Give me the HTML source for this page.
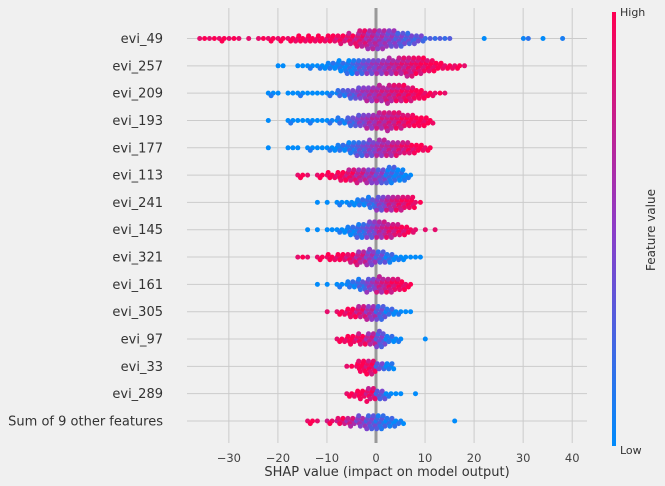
<!DOCTYPE html>
<html><head><meta charset="utf-8"><style>
body{margin:0;background:#f0f0f0;}
svg{display:block;font-family:"DejaVu Sans","Liberation Sans",sans-serif;}
</style></head><body>
<svg id="chart" width="665" height="486" viewBox="0 0 665 486" xmlns="http://www.w3.org/2000/svg">
<defs><linearGradient id="cb" x1="0" y1="1" x2="0" y2="0">
<stop offset="0" stop-color="#008bfb"/><stop offset="0.5" stop-color="#8c3cc8"/><stop offset="1" stop-color="#ff0052"/></linearGradient></defs>
<rect x="0" y="0" width="665" height="486" fill="#f0f0f0"/>
<g id="grid"></g><g id="dots"></g><g id="labels"></g>
<rect x="612" y="12" width="4" height="434" fill="url(#cb)"/>
<text x="620" y="16" font-size="11" fill="#333">High</text>
<text x="620" y="454" font-size="11" fill="#333">Low</text>
<text transform="translate(655,230) rotate(-90)" text-anchor="middle" font-size="12" fill="#333">Feature value</text>
<text x="387" y="476" text-anchor="middle" font-size="13" fill="#333">SHAP value (impact on model output)</text>
</svg>
<script>
const features = ["evi_49","evi_257","evi_209","evi_193","evi_177","evi_113","evi_241","evi_145","evi_321","evi_161","evi_305","evi_97","evi_33","evi_289","Sum of 9 other features"];
const xTicks = [-30,-20,-10,0,10,20,30,40];
const binWidth = 2;
const binStarts = [-36,-20,-22,-22,-22,-16,-12,-14,-16,-12,-10,-8,-6,-6,-14];
const binCounts = [
[2,2,3,2,1,1,2,3,3,4,5,5,5,6,7,9,14,16,16,14,12,9,6,2,2,2,0,0,0,1,0,0,0,2,0,1,0,1],
[2,0,2,3,4,6,9,12,12,12,12,13,14,16,14,10,6,4,3,1],
[3,1,2,3,2,2,3,6,8,10,12,13,15,14,12,8,4,2,1],
[1,0,3,2,3,2,3,5,8,10,12,14,15,13,10,8,5],
[1,0,2,1,3,2,4,6,10,12,13,14,12,11,9,6,3],
[3,1,3,5,8,10,11,12,12,14,10,3],
[1,1,3,4,6,9,12,12,12,10,2],
[1,1,2,4,8,12,14,14,12,9,5,1,1,1],
[2,1,3,5,6,8,11,13,10,7,4,2,2],
[1,1,3,6,9,11,13,12,9,3],
[1,4,8,10,12,12,6,3,2],
[4,7,9,10,13,6,3,0,0,1],
[2,10,12,6,6],
[4,7,11,8,3,2,0,1],
[3,1,3,6,7,9,12,12,8,4,0,0,0,0,0,1]
];
const binColors = [
[1,1,1,1,1,1,1,1,1,1,1,1,1,0.95,0.9,0.85,0.8,0.65,0.55,0.45,0.35,0.3,0.3,0.3,0.3,0.3,0,0,0,0.1,0,0,0,0.15,0,0.1,0,0.2],
[0,0,0,0,0,0.02,0.05,0.1,0.3,0.45,0.55,0.65,0.75,0.8,0.9,0.95,1,1,1,1],
[0,0,0,0,0,0,0.05,0.15,0.3,0.5,0.6,0.7,0.75,0.85,0.9,1,1,1,1],
[0,0,0,0,0,0,0.05,0.1,0.25,0.45,0.6,0.7,0.75,0.85,0.95,1,1],
[0,0,0,0,0,0,0,0.05,0.15,0.3,0.45,0.6,0.7,0.8,0.9,1,1],
[1,1,1,1,0.95,0.85,0.7,0.55,0.4,0.15,0.05,0],
[0,0,0,0,0.05,0.2,0.45,0.7,0.85,0.95,1],
[0,0,0,0,0.05,0.2,0.4,0.65,0.8,0.9,0.95,1,1,1],
[1,1,1,1,0.95,0.85,0.7,0.5,0.3,0.1,0,0,0],
[0,0,0,0.05,0.2,0.45,0.7,0.85,0.95,1],
[1,1,0.95,0.8,0.6,0.3,0.1,0,0],
[1,1,0.9,0.7,0.35,0.05,0,0,0,0],
[1,1,0.9,0.3,0],
[1,1,0.85,0.3,0,0,0,0],
[1,1,0.9,0.85,0.7,0.5,0.35,0.2,0.1,0.05,0,0,0,0,0,0]
];
const NS="http://www.w3.org/2000/svg";
const plotL=187, plotR=587, plotT=8, plotB=443;
const zeroX=376, pxPerUnit=4.905;
const rowY0=38.5, rowStep=27.32;
function xScale(v){return zeroX+v*pxPerUnit;}
function yScale(i){return rowY0+i*rowStep;}
function mk(tag,attrs){const e=document.createElementNS(NS,tag);for(const k in attrs)e.setAttribute(k,attrs[k]);return e;}
function colorAt(t){
  t=Math.max(0,Math.min(1,t));
  const a=[0,139,251],m=[140,60,200],b=[255,0,82];
  let c;
  if(t<0.5){const u=t/0.5;c=a.map((v,k)=>Math.round(v+(m[k]-v)*u));}
  else{const u=(t-0.5)/0.5;c=m.map((v,k)=>Math.round(v+(b[k]-v)*u));}
  return "rgb("+c.join(",")+")";
}
const grid=document.getElementById('grid'),dots=document.getElementById('dots'),labels=document.getElementById('labels');
xTicks.forEach(t=>{
  const l=mk('line',{x1:xScale(t),x2:xScale(t),y1:plotT,y2:plotB,stroke:"#cbcbcb","stroke-width":1});
  
  
  grid.appendChild(l);
  const tx=mk('text',{x:xScale(t),y:462,"text-anchor":"middle","font-size":11.5,fill:"#444"});
  tx.textContent=(t<0?"\u2212"+Math.abs(t):String(t));
  
  
  labels.appendChild(tx);
});
features.forEach((f,i)=>{
  const y=yScale(i);
  const l=mk('line',{x1:plotL,x2:plotR,y1:y,y2:y,stroke:"#cbcbcb","stroke-width":1});
  
  
  grid.appendChild(l);
  const tx=mk('text',{x:163,y:y+4.5,"text-anchor":"end","font-size":13,fill:"#333"});
  tx.textContent=f;
  
  
  labels.appendChild(tx);
});
const zl=mk('line',{x1:zeroX,x2:zeroX,y1:plotT,y2:plotB,stroke:"#999","stroke-width":3});


grid.appendChild(zl);
binCounts.forEach((counts,r)=>{
  const y0=yScale(r);
  counts.forEach((n,b)=>{
    const left=binStarts[r]+b*binWidth;
    const per=2;
    for(let i=0;i<n;i++){
      const lvl=Math.floor(i/per);
      const off=lvl===0?0:(lvl%2?1:-1)*Math.ceil(lvl/2)*2.6;
      const fr=((i%per)+0.5+(((lvl*0.618034)%1)-0.5)*0.9)/per;
      const v=left+Math.max(0,Math.min(1,fr))*binWidth;
      const col=binColors[r][b]+(((i*0.37+0.13)%1)-0.5)*0.3;
      const c=mk('circle',{cx:xScale(v).toFixed(1),cy:(y0+off).toFixed(1),r:2.5,fill:colorAt(col)});
      
      
      dots.appendChild(c);
    }
  });
});
</script>
</body></html>
